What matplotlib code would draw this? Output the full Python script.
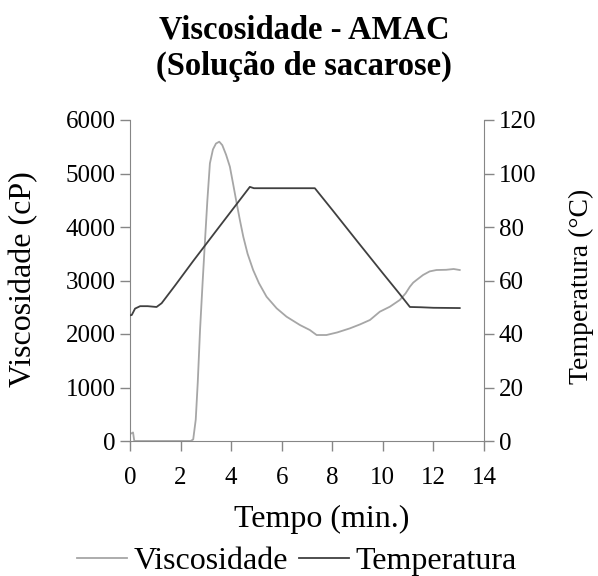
import matplotlib.pyplot as plt
from matplotlib.lines import Line2D

plt.rcParams['font.family'] = ['Liberation Serif', 'DejaVu Serif']

# Viscosidade (cP) x tempo (min)
t_visc = [0.0, 0.05, 0.12, 0.17, 0.25, 0.5, 1.0, 1.5, 2.0, 2.4, 2.5, 2.6, 2.68, 2.77, 2.87, 2.96,
          3.06, 3.16, 3.28, 3.4, 3.53, 3.65, 3.8, 3.95, 4.08, 4.22, 4.35, 4.48, 4.65, 4.87, 5.1,
          5.4, 5.8, 6.19, 6.72, 7.11, 7.38, 7.77, 8.2, 8.7, 9.1, 9.49, 9.88, 10.28, 10.67, 10.9,
          11.07, 11.2, 11.33, 11.59, 11.85, 12.12, 12.5, 12.8, 13.04]
viscosidade = [150, 140, 160, 0, 0, 0, 0, 0, 0, 0, 30, 400, 1100, 2075, 2950, 3695,
               4500, 5190, 5450, 5560, 5594, 5530, 5350, 5127, 4800, 4441, 4120, 3819, 3500, 3196, 2950,
               2697, 2480, 2324, 2168, 2075, 1981, 1981, 2030, 2106, 2180, 2262, 2417, 2511, 2636, 2760,
               2885, 2960, 3009, 3103, 3170, 3196, 3200, 3215, 3196]

# Temperatura (°C) x tempo (min)
t_temp = [0.0, 0.07, 0.2, 0.4, 0.7, 1.05, 1.25, 1.78, 2.5, 3.5, 4.74, 4.9, 5.5,
          6.5, 7.31, 8.0, 9.0, 10.0, 10.67, 11.07, 11.5, 12.0, 13.04]
temperatura = [47, 47.1, 49.5, 50.4, 50.4, 50.1, 51.5, 58.1, 67.3, 79.7, 95, 94.5, 94.5,
               94.5, 94.5, 86.4, 74.5, 62.7, 54.9, 50.1, 50, 49.8, 49.7]

cor_visc = '#a6a6a6'
cor_temp = '#404040'
cor_eixo = '#868686'

W, H = 598, 576
fig = plt.figure(figsize=(W / 100, H / 100), dpi=100)
ax = fig.add_axes([130 / W, 1 - 441 / H, 354 / W, 321 / H])
ax2 = ax.twinx()

ax.plot(t_visc, viscosidade, color=cor_visc, lw=1.3)
ax2.plot(t_temp, temperatura, color=cor_temp, lw=1.3)

ax.set_xlim(0, 14)
ax.set_ylim(0, 6000)
ax2.set_ylim(0, 120)
ax.set_xticks(range(0, 15, 2))
ax.set_yticks(range(0, 6001, 1000))
ax2.set_yticks(range(0, 121, 20))

for a in (ax, ax2):
    a.spines['top'].set_visible(False)
    for s in ('left', 'right', 'bottom'):
        a.spines[s].set_color(cor_eixo)
    a.tick_params(colors=cor_eixo, labelcolor='black', labelsize=18, length=7, width=1)
ax.tick_params(axis='x', pad=12)
ax.spines['right'].set_visible(False)
ax2.spines['left'].set_visible(False)
ax2.spines['bottom'].set_visible(False)

# títulos dos eixos
fig.text(322 / W, 1 - 519 / H, 'Tempo (min.)', fontsize=23, ha='center', va='center')
fig.text(24 / W, 1 - 279 / H, 'Viscosidade (cP)', fontsize=23, rotation=90, ha='center', va='center')
fig.text(581 / W, 1 - 286 / H, 'Temperatura (°C)', fontsize=20, rotation=90, ha='center', va='center')

fig.text(304 / W, 1 - 30 / H, 'Viscosidade - AMAC', fontsize=23.5, fontweight='bold',
         ha='center', va='center')
fig.text(304 / W, 1 - 66 / H, '(Solução de sacarose)', fontsize=23.5, fontweight='bold',
         ha='center', va='center')

handles = [Line2D([], [], color=cor_visc, lw=1.3), Line2D([], [], color=cor_temp, lw=1.3)]
fig.legend(handles, ['Viscosidade', 'Temperatura'], loc='center', bbox_to_anchor=(297 / W, 1 - 561 / H),
           ncol=2, frameon=False, fontsize=23, handlelength=1.55, handletextpad=0.22,
           columnspacing=0.35, borderaxespad=0, borderpad=0)

fig.savefig('out.png', dpi=100)
